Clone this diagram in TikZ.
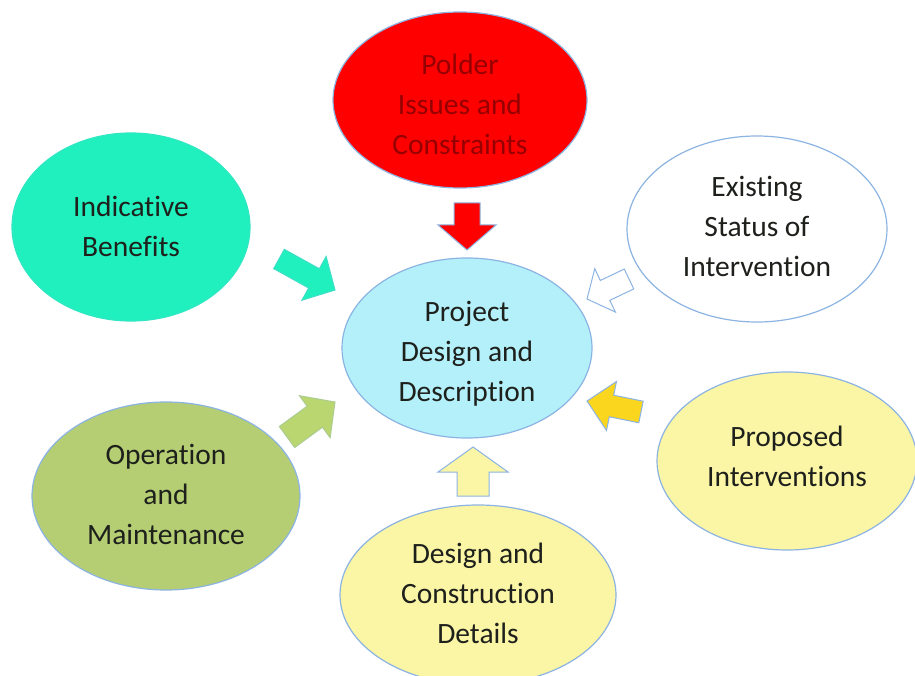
\documentclass[tikz,border=0pt]{standalone}
\usepackage{fontspec}
\setmainfont{Carlito}[Ligatures=NoCommon]
\usetikzlibrary{shapes.geometric,calc}
\definecolor{edgeblue}{RGB}{140,180,226}
\definecolor{txt}{RGB}{30,32,28}
\definecolor{cyanfill}{RGB}{180,240,250}
\definecolor{redfill}{RGB}{255,0,0}
\definecolor{redtxt}{RGB}{150,0,0}
\definecolor{tealfill}{RGB}{32,240,190}
\definecolor{olivefill}{RGB}{181,206,116}
\definecolor{olivearrow}{RGB}{186,214,112}
\definecolor{paleyellow}{RGB}{251,245,166}
\definecolor{goldfill}{RGB}{250,214,30}
\tikzset{
  bubble/.style={ellipse, inner sep=0pt, align=center, draw=edgeblue,
    line width=1.2pt, text=txt, font=\fontsize{29.5}{40}\selectfont},
  barrow/.style={draw=edgeblue, line width=1pt, line join=miter},
}
% text lines, raised by #1 without changing the box size
\newcommand{\lines}[2]{\raisebox{#1}[\height][\depth]{\begin{tabular}{@{}c@{}}#2\end{tabular}}}
% #1 style, #2 tail, #3 tip, #4 half shaft, #5 half head, #6 head length
\newcommand{\blockarrow}[6]{%
  \path[#1] let \p1=($(#3)-(#2)$), \n1={veclen(\x1,\y1)}, \n2={atan2(\y1,\x1)} in
    [shift={(#2)}, rotate=\n2]
    (0pt,-#4pt) -- (\n1-#6pt,-#4pt) -- (\n1-#6pt,-#5pt) -- (\n1,0pt)
    -- (\n1-#6pt,#5pt) -- (\n1-#6pt,#4pt) -- (0pt,#4pt) -- cycle;}
\begin{document}
\begin{tikzpicture}[x=1pt,y=-1pt]
\useasboundingbox (0,0) rectangle (915,676);
\clip (0,0) rectangle (915,676);
\fill[white] (0,0) rectangle (915,676);

\node[bubble, fill=cyanfill, minimum width=250pt, minimum height=180pt] (center) at (467,348) {\lines{-5pt}{Project\\Design and\\Description}};
\node[bubble, fill=redfill, text=redtxt, minimum width=254pt, minimum height=176pt] (polder) at (460,100) {\lines{-7pt}{Polder\\Issues and\\Constraints}};
\node[bubble, fill=tealfill, draw=tealfill!85!edgeblue, minimum width=238pt, minimum height=188pt] (benefits) at (131,227) {\lines{-2pt}{Indicative\\Benefits}};
\node[bubble, fill=white, minimum width=260pt, minimum height=186pt] (existing) at (757,229) {\lines{0pt}{Existing\\Status of\\Intervention}};
\node[bubble, fill=olivefill, minimum width=268pt, minimum height=188pt] (operation) at (166,496) {\lines{0pt}{Operation\\and\\Maintenance}};
\node[bubble, fill=paleyellow, minimum width=260pt, minimum height=178pt] (proposed) at (787,461) {\lines{2.5pt}{Proposed\\Interventions}};
\node[bubble, fill=paleyellow, minimum width=276pt, minimum height=180pt] (construction) at (478,595) {\lines{0pt}{Design and\\Construction\\Details}};

\coordinate (redT) at (467,203);   \coordinate (redH) at (467,250);
\coordinate (tealT) at (279,259);  \coordinate (tealH) at (335,290);
\coordinate (whiteT) at (629,279); \coordinate (whiteH) at (587,299);
\coordinate (goldT) at (641,412);  \coordinate (goldH) at (587,401);
\coordinate (paleT) at (473,496);  \coordinate (paleH) at (473,447);
\coordinate (oliveT) at (287,437); \coordinate (oliveH) at (335,402);

\blockarrow{barrow, fill=redfill}{redT}{redH}{13}{29}{25}
\blockarrow{barrow, fill=tealfill, draw=tealfill!70!edgeblue}{tealT}{tealH}{11}{25}{24}
\blockarrow{barrow, fill=white}{whiteT}{whiteH}{11}{24}{20}
\blockarrow{barrow, fill=goldfill}{goldT}{goldH}{11}{25}{25}
\blockarrow{barrow, fill=paleyellow}{paleT}{paleH}{16}{35}{25}
\blockarrow{barrow, fill=olivearrow, draw=olivearrow!70!edgeblue}{oliveT}{oliveH}{13}{26}{25}
\end{tikzpicture}
\end{document}
